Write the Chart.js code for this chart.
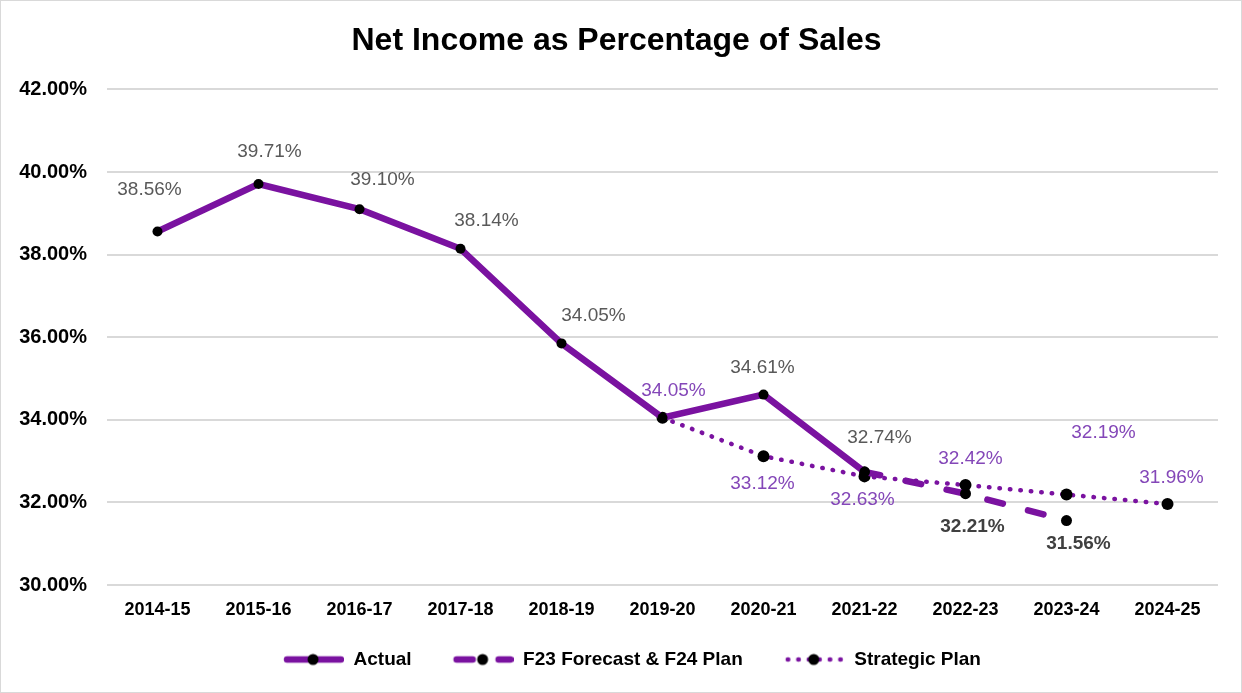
<!DOCTYPE html>
<html>
<head>
<meta charset="utf-8">
<script src="https://cdn.jsdelivr.net/npm/chart.js@4.4.1/dist/chart.umd.min.js"></script>
<style>
    html, body { margin: 0; padding: 0; background: #fff; }
    .frame { width: 1242px; height: 693px; box-sizing: border-box; border: 1px solid #d9d9d9; }
    canvas { display: block; }
</style>
</head>
<body>
<div class="frame"><canvas id="chart" width="1240" height="691"></canvas></div>
<script>
// chart data
const years = ['2014-15', '2015-16', '2016-17', '2017-18', '2018-19', '2019-20',
               '2020-21', '2021-22', '2022-23', '2023-24', '2024-25'];
const actual    = [38.56, 39.71, 39.10, 38.14, 35.85, 34.05, 34.61, 32.74, null, null, null];
const forecast  = [null, null, null, null, null, null, null, 32.74, 32.21, 31.56, null];
const strategic = [null, null, null, null, null, 34.05, 33.12, 32.63, 32.42, 32.19, 31.96];

// data label texts (as printed on the original)
const actualLabels    = ['38.56%', '39.71%', '39.10%', '38.14%', '34.05%', '', '34.61%', '32.74%', '', '', ''];
const forecastLabels  = ['', '', '', '', '', '', '', '', '32.21%', '31.56%', ''];
const strategicLabels = ['', '', '', '', '', '34.05%', '33.12%', '32.63%', '32.42%', '32.19%', '31.96%'];

const yTicks = [30, 32, 34, 36, 38, 40, 42];

// label placement relative to its point [dx, dy]
const actualOffsets    = [[-8,-42],[11,-32],[23,-29],[26,-28],[32,-28],[0,0],[-1,-27],[15,-34],[0,0],[0,0],[0,0]];
const forecastOffsets  = [[0,0],[0,0],[0,0],[0,0],[0,0],[0,0],[0,0],[0,0],[7,33],[12,23],[0,0]];
const strategicOffsets = [[0,0],[0,0],[0,0],[0,0],[0,0],[11,-27],[-1,28],[-2,23],[5,-26],[37,-62],[4,-26]];

const PURPLE = '#7a12a0';
const FONT = "'Liberation Sans', Arial, sans-serif";
const LEGEND_GAP = 28;   // extra room left of each legend sample

// little canvas used as the legend symbol: line sample with a dot in the middle
function legendSample(ds) {
    const c = document.createElement('canvas');
    c.width = 64 + LEGEND_GAP; c.height = 16;
    const g = c.getContext('2d');
    g.translate(LEGEND_GAP + 4, 0);
    g.strokeStyle = ds.borderColor;
    g.lineWidth = ds.borderWidth;
    g.lineCap = 'round';
    g.setLineDash(ds.borderDash || []);
    g.beginPath(); g.moveTo(3, 8); g.lineTo(57, 8); g.stroke();
    g.setLineDash([]);
    g.fillStyle = '#000';
    g.beginPath(); g.arc(29, 8, 5.5, 0, Math.PI * 2); g.fill();
    return c;
}

const dataLabels = {
    id: 'dataLabels',
    afterDatasetsDraw(chart) {
        const ctx = chart.ctx;
        chart.data.datasets.forEach((ds, i) => {
            const meta = chart.getDatasetMeta(i);
            ctx.save();
            ctx.font = ds.labelFont;
            ctx.fillStyle = ds.labelColor;
            ctx.textAlign = 'center';
            ctx.textBaseline = 'middle';
            meta.data.forEach((pt, j) => {
                const txt = ds.labelTexts[j];
                if (!txt) return;
                const off = ds.labelOffsets[j];
                ctx.fillText(txt, pt.x + off[0], pt.y + off[1]);
            });
            ctx.restore();
        });
    }
};

new Chart(document.getElementById('chart'), {
    type: 'line',
    data: {
        labels: years,
        datasets: [
            {
                label: 'Actual',
                data: actual,
                borderColor: PURPLE,
                borderWidth: 6.5,
                borderCapStyle: 'round',
                pointRadius: 5,
                pointBackgroundColor: '#000',
                pointBorderWidth: 0,
                labelTexts: actualLabels,
                labelOffsets: actualOffsets,
                labelColor: '#595959',
                labelFont: `19px ${FONT}`,
                order: 1
            },
            {
                label: 'F23 Forecast & F24 Plan',
                data: forecast,
                borderColor: PURPLE,
                borderWidth: 6.5,
                borderDash: [16, 26],
                borderCapStyle: 'round',
                pointRadius: 5.5,
                pointBackgroundColor: '#000',
                pointBorderWidth: 0,
                labelTexts: forecastLabels,
                labelOffsets: forecastOffsets,
                labelColor: '#404040',
                labelFont: `bold 19px ${FONT}`,
                order: 2
            },
            {
                label: 'Strategic Plan',
                data: strategic,
                borderColor: PURPLE,
                borderWidth: 4.5,
                borderDash: [0.5, 10],
                borderCapStyle: 'round',
                pointRadius: 6,
                pointBackgroundColor: '#000',
                pointBorderWidth: 0,
                labelTexts: strategicLabels,
                labelOffsets: strategicOffsets,
                labelColor: '#8447b8',
                labelFont: `19px ${FONT}`,
                order: 3
            }
        ]
    },
    options: {
        responsive: false,
        animation: false,
        layout: { padding: { left: 14, right: 23, top: 0, bottom: 13 } },
        plugins: {
            title: {
                display: true,
                text: 'Net Income as Percentage of Sales',
                color: '#000',
                font: { family: FONT, size: 32, weight: 'bold' },
                padding: { top: 21, bottom: 29 }
            },
            legend: {
                position: 'bottom',
                labels: {
                    color: '#000',
                    font: { family: FONT, size: 19, weight: 'bold' },
                    usePointStyle: true,
                    pointStyleWidth: 64 + LEGEND_GAP,
                    padding: 10,
                    generateLabels(chart) {
                        return chart.data.datasets.map((ds, i) => ({
                            text: ds.label,
                            pointStyle: legendSample(ds),
                            fontColor: '#000',
                            lineWidth: 0,
                            datasetIndex: i
                        }));
                    }
                }
            },
            tooltip: { enabled: false }
        },
        scales: {
            x: {
                offset: true,
                grid: { display: false, drawTicks: false },
                border: { display: false },
                ticks: { color: '#000', padding: 14, font: { family: FONT, size: 18, weight: 'bold' } },
                afterFit(axis) { axis.height = 55; }
            },
            y: {
                min: yTicks[0],
                max: yTicks[yTicks.length - 1],
                afterBuildTicks(axis) { axis.ticks = yTicks.map(v => ({ value: v })); },
                afterFit(axis) { axis.width = 92; },
                grid: { color: '#d9d9d9', lineWidth: 2, drawTicks: false },
                border: { display: false },
                ticks: {
                    color: '#000',
                    padding: 20,
                    font: { family: FONT, size: 20, weight: 'bold' },
                    callback: v => v.toFixed(2) + '%'
                }
            }
        }
    },
    plugins: [dataLabels]
});
</script>
</body>
</html>
